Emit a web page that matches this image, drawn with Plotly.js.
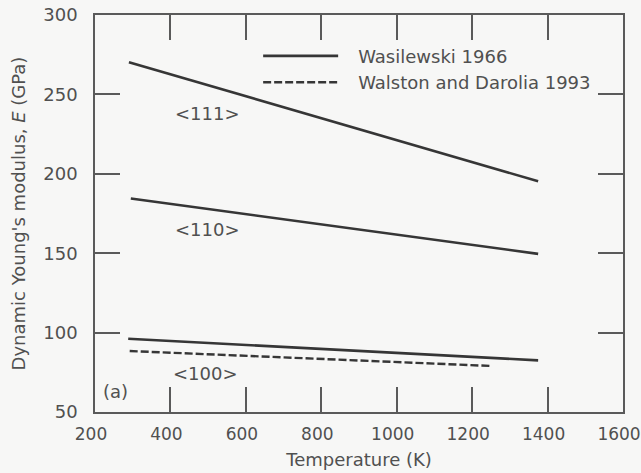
<!DOCTYPE html>
<html><head><meta charset="utf-8">
<script src="https://cdn.plot.ly/plotly-3.0.1.min.js"></script>
<style>body{margin:0;background:#f7f7f6}#c{width:641px;height:473px}</style>
</head><body><div id="c"></div>
<script>
// Data
const T_111 = [290, 1375];
const E_111 = [270.3, 195.3];
const T_110 = [295, 1375];
const E_110 = [184.4, 149.6];
const T_100_wasilewski = [288, 1375];
const E_100_wasilewski = [96.1, 82.5];
const T_100_walston = [292, 1250];
const E_100_walston = [88.4, 79.0];
const xTicks = [200, 400, 600, 800, 1000, 1200, 1400, 1600];
const yTicks = [50, 100, 150, 200, 250, 300];
const orientLabels = ['<111>', '<110>', '<100>'];
const orientLabelX = [497, 497, 494];
const orientLabelY = [238, 165, 74];

const lineColor = '#363636';
const axColor = '#5a5a5a';
const font = {family: 'DejaVu Sans, sans-serif', size: 18, color: '#505050'};
const tickFontX = {family: 'DejaVu Sans, sans-serif', size: 17, color: '#505050'};
const NB = '\u00a0\u00a0\u2009';

const traces = [
  {x: T_111, y: E_111, mode: 'lines', line: {color: lineColor, width: 2.6}, name: NB + 'Wasilewski 1966', legendgroup: 'w', showlegend: true},
  {x: T_110, y: E_110, mode: 'lines', line: {color: lineColor, width: 2.6}, name: NB + 'Wasilewski 1966', legendgroup: 'w', showlegend: false},
  {x: T_100_wasilewski, y: E_100_wasilewski, mode: 'lines', line: {color: lineColor, width: 2.6}, name: NB + 'Wasilewski 1966', legendgroup: 'w', showlegend: false},
  {x: T_100_walston, y: E_100_walston, mode: 'lines', line: {color: lineColor, width: 2.4, dash: '8px,3px'}, name: NB + 'Walston and Darolia 1993', showlegend: true}
];

const annotations = orientLabels.map((t, i) => ({
  x: orientLabelX[i], y: orientLabelY[i], xref: 'x', yref: 'y', text: t.replace(/</g,'&lt;').replace(/>/g,'&gt;'),
  showarrow: false, font: font
}));
annotations.push({x: 0.012, y: 0.02, xref: 'paper', yref: 'paper', xanchor: 'left', yanchor: 'bottom', text: '(a)', showarrow: false, font: font});

const axisCommon = {
  showline: true, linecolor: axColor, linewidth: 1.5, mirror: 'ticks',
  ticks: 'inside', ticklen: 25, tickwidth: 1.5, tickcolor: axColor,
  showgrid: false, zeroline: false, tickfont: font
};

const layout = {
  width: 641, height: 473,
  paper_bgcolor: '#f7f7f6', plot_bgcolor: '#f7f7f6',
  margin: {l: 95, r: 18, t: 15, b: 61},
  font: font,
  xaxis: Object.assign({}, axisCommon, {range: [200, 1600], tickvals: xTicks, ticktext: xTicks.map(String),
    tickfont: tickFontX, ticklabelstandoff: 6, ticklabelshift: -4, ticklabeloverflow: 'allow',
    title: {text: 'Temperature (K)', font: font, standoff: 10}}),
  yaxis: Object.assign({}, axisCommon, {range: [50, 300], tickvals: yTicks, ticktext: yTicks.map(String),
    ticklabelstandoff: 12,
    title: {text: "Dynamic Young's modulus, <i>E</i> (GPa)", font: font, standoff: 13}}),
  showlegend: true,
  legend: {x: 0.309, y: 0.943, xanchor: 'left', yanchor: 'top', bgcolor: 'rgba(0,0,0,0)', font: font,
    itemwidth: 75, tracegroupgap: 0},
  annotations: annotations
};

Plotly.newPlot('c', traces, layout, {displayModeBar: false});
</script></body></html>
